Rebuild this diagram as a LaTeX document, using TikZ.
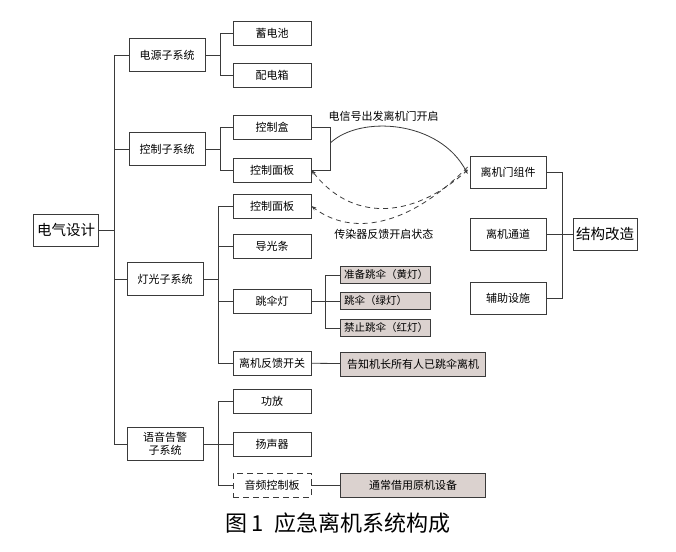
\documentclass[tikz,border=0pt]{standalone}
\usepackage{fontspec}
\newfontfamily\cjk{Noto Sans CJK SC}
\usetikzlibrary{arrows.meta,calc}
\definecolor{linegray}{HTML}{3A3A3A}
\definecolor{notefill}{HTML}{DBD2CF}
\tikzset{
  box/.style={draw=linegray, line width=0.8pt, minimum width=78pt, minimum height=24pt, inner sep=0pt, font=\cjk\fontsize{11}{13}\selectfont},
  subbox/.style={box, minimum width=76pt, minimum height=33pt, align=center},
  bigbox/.style={box, minimum height=32pt, font=\cjk\fontsize{14.5}{16}\selectfont},
  lampbox/.style={box, fill=notefill, minimum width=90pt, minimum height=17pt, inner xsep=4pt, text width=82pt, align=left, font=\cjk\fontsize{10.5}{12}\selectfont},
  notebox/.style={box, fill=notefill, minimum width=145pt},
  wire/.style={draw=linegray, line width=0.8pt},
  tip/.style={-{Stealth[length=5pt,width=3.5pt]}},
}
\begin{document}
\begin{tikzpicture}[x=1pt,y=-1pt]
    \useasboundingbox (0,0) rectangle (676,551);
    % left tree
    \node[bigbox, minimum width=65pt] (elec) at (66,230) {电气设计};
    \node[subbox] (power) at (167,55) {电源子系统};
    \node[subbox] (ctrl) at (167,149) {控制子系统};
    \node[subbox] (light) at (165,279) {灯光子系统};
    \node[subbox] (voice) at (165,444) {语音告警\\子系统};
    \node[box] (battery) at (272,33) {蓄电池};
    \node[box] (distbox) at (272,75) {配电箱};
    \node[box] (ctrlbox) at (272,127) {控制盒};
    \node[box] (panela) at (272,170) {控制面板};
    \node[box] (panelb) at (272,206) {控制面板};
    \node[box] (guide) at (272,246) {导光条};
    \node[box] (lamp) at (272,301) {跳伞灯};
    \node[box] (feedback) at (272,363) {离机反馈开关};
    \node[box] (amp) at (272,401) {功放};
    \node[box] (speaker) at (272,444) {扬声器};
    \node[box, dashed, dash pattern=on 6pt off 4pt] (audio) at (272,485) {音频控制板};
    % grey notes
    \node[lampbox] (ready) at (385,275) {准备跳伞（黄灯）};
    \node[lampbox] (jump) at (385,301) {跳伞（绿灯）};
    \node[lampbox] (nojump) at (385,328) {禁止跳伞（红灯）};
    \node[notebox] (notify) at (413,364) {告知机长所有人已跳伞离机};
    \node[notebox] (borrow) at (413,485) {通常借用原机设备};
    % right side
    \node[box, minimum width=76pt, minimum height=32pt] (door) at (508,172) {离机门组件};
    \node[box, minimum width=76pt, minimum height=32pt] (channel) at (508,234) {离机通道};
    \node[box, minimum width=76pt, minimum height=32pt] (aux) at (508,298) {辅助设施};
    \node[bigbox, minimum width=64pt] (struct) at (605,234) {结构改造};

    \draw[wire] (elec.east) -- ++(15,0) coordinate (trunk);
    \draw[wire] (trunk |- power) -- (trunk |- voice); %trunk
    \foreach \s in {power,ctrl,light,voice} \draw[wire] (trunk |- \s) -- (\s.west);
    \draw[wire] (power.east) -- ++(15,0) coordinate (pw);
    \foreach \s in {battery,distbox} \draw[wire] (pw) |- (\s.west);
    \draw[wire] (ctrl.east) -- ++(15,0) coordinate (cw);
    \foreach \s in {ctrlbox,panela} \draw[wire] (cw) |- (\s.west);
    \draw[wire] (light.east) -- ++(15,0) coordinate (lw);
    \foreach \s in {panelb,guide,lamp,feedback} \draw[wire] (lw) |- (\s.west);
    \draw[wire] (voice.east) -- ++(15,0) coordinate (vw);
    \foreach \s in {amp,speaker,audio} \draw[wire] (vw) |- (\s.west);
    \draw[wire] (lamp.east) -- ++(14,0) coordinate (jw);
    \foreach \s in {ready,jump,nojump} \draw[wire] (jw) |- (\s.west);
    \draw[wire] (feedback) -- (notify);
    \draw[wire] (audio) -- (borrow);
    % right bracket
    \draw[wire] (ctrlbox.east) -- ++(19,0) coordinate (cb) |- (panela.east);
    \coordinate (sig) at ($(cb)!0.37!(cb |- panela)$);
    \draw[wire] (door.east) -- ++(16,0) coordinate (rw) |- (aux.east);
    \draw[wire] (channel) -- (struct);
    % signals
    \draw[wire, tip] (sig) .. controls (360,115) and (440,120) .. node[pos=0.35, above=1pt, xshift=8pt, font=\cjk\fontsize{11}{13}\selectfont] {电信号出发离机门开启} ([xshift=-2pt,yshift=-2pt]door.west);
    \draw[wire, tip, dashed, dash pattern=on 5pt off 4pt] ([xshift=-2pt,yshift=2pt]door.west) .. controls (410,222) and (350,220) .. (panela.east);
    \draw[wire, tip, dashed, dash pattern=on 5pt off 4pt] ([xshift=-2pt,yshift=5pt]door.west) .. controls (400,235) and (345,232) .. node[pos=0.55, below=3pt, xshift=15pt, font=\cjk\fontsize{11}{13}\selectfont] {传染器反馈开启状态} (panelb.east);
    % caption
    \node[font=\cjk\fontsize{22}{26}\selectfont] (caption) at (338,523) {图\,1\hspace{0.5em}应急离机系统构成};
\end{tikzpicture}
\end{document}
